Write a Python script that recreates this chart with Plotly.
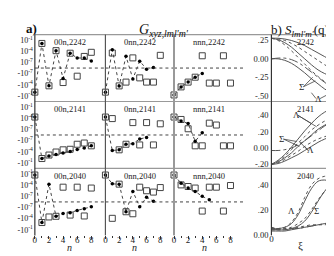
import numpy as np
import plotly.graph_objects as go

W, H = 334, 256
def px(x): return x / W
def py(y): return 1 - y / H

# ---------------- panel a data (G values, signed) ----------------
n_vals = [0, 1, 2, 3, 4, 5, 6, 7, 8]

dots_00n_2242 = [-9.5e-3, 1.3e-2, -1.9e-4, 1.5e-4, -1.9e-6, 3.1e-5, 1.6e-6, 1.6e-6, 2.6e-7]
sq_00n_2242   = [-9.5e-3, 1.3e-2, -1.9e-4, 1.5e-4, -2.5e-5, 3.1e-5, -4.9e-7, 4.2e-6, 5.4e-5]
dots_0nn_2242 = [-9.5e-3, 2.8e-4, -2.0e-4, 4.5e-6, -2.6e-6, 2.3e-7, -6.3e-9, 4.2e-9]
sq_0nn_2242   = [-9.5e-3, 3.5e-5, -2.0e-4, -1.9e-5, 1.7e-6, -1.4e-6, -1.9e-5, -1.9e-5, 8.3e-6]
dots_nnn_2242 = [-5.4e-2, -3.7e-4, -1.9e-5, -9.1e-7, -8.7e-8]
sq_nnn_2242   = [-5.4e-2, -3.7e-4, -1.9e-5, -9.1e-7, 6.3e-6, -3.5e-5, -3.5e-5, 6.3e-6, -3.5e-5]

dots_00n_2141 = [2.1e-4, -6.8e-3, -1.5e-3, -5.6e-4, -2.1e-4, -8.1e-5, -2.5e-5, -1.0e-5, -2.6e-6]
sq_00n_2141   = [2.1e-4, -6.8e-3, -7.9e-4, -1.2e-4, -3.1e-5, -2.2e-5, -9.8e-7, -4.6e-7, -2.6e-6]
dots_0nn_2141 = [2.1e-4, -4.7e-5, -3.1e-5, -9.8e-7, -6.9e-7, -3.8e-8, -1.4e-8]
sq_0nn_2141   = [2.1e-4, 8.1e-5, -3.1e-5, -9.8e-7, 6.8e-6, -1.5e-6, 6.8e-6, -1.5e-6, 3.2e-6]
dots_nnn_2141 = [2.1e-4, 1.8e-5, 3.9e-6, -1.5e-7, 1.2e-8]
sq_nnn_2141   = [2.1e-4, 4.7e-5, 1.5e-7, -2.6e-6, -2.6e-6, 4.8e-6, 1.5e-6, -2.6e-6, -2.6e-6]

dots_00n_2040 = [5.4e-2, -1.1e-3, 1.9e-4, -2.3e-5, -3.9e-6, -2.6e-6, -6.0e-7, -2.3e-7, -6.6e-8]
sq_00n_2040   = [5.4e-2, -1.1e-3, -3.5e-5, -2.3e-5, 2.9e-5, -1.1e-5, 2.9e-5, -1.9e-5, 1.7e-5]
dots_0nn_2040 = [5.4e-2, 2.3e-4, 1.9e-4, -1.4e-6, 2.1e-6, -6.6e-8, 5.4e-8, 4.8e-9]
sq_0nn_2040   = [5.4e-2, -8.1e-5, 1.9e-4, -1.4e-6, -4.8e-6, 2.9e-5, 3.2e-6, 1.4e-6, 2.3e-5]
dots_nnn_2040 = [5.4e-2, 3.5e-4, 1.7e-5, 2.1e-6, 1.0e-7, 1.3e-8]
sq_nnn_2040   = [5.4e-2, 1.2e-4, 4.4e-5, 1.7e-5, -9.1e-7, 2.9e-5, 2.9e-5, -9.1e-7, 8.1e-5]

row_names = ["2242", "2141", "2040"]
col_names = ["00n", "0nn", "nnn"]
a_ticks = [1e-1, 1e-4, 1e-7, -1e-7, -1e-4, -1e-1]
a_ticktext = ["10<sup>-1</sup>", "10<sup>-4</sup>", "10<sup>-7</sup>",
              "-10<sup>-7</sup>", "-10<sup>-4</sup>", "-10<sup>-1</sup>"]
n_ticks = [0, 2, 4, 6, 8]

# ---------------- panel b data ----------------
xi = [0.0, 0.1, 0.2, 0.3, 0.4, 0.5, 0.6, 0.7, 0.8, 0.9, 1.0]
S2242 = [
    [0.28, 0.28, 0.27, 0.25, 0.22, 0.18, 0.13, 0.08, 0.03, -0.02, -0.06],
    [0.28, 0.27, 0.25, 0.21, 0.16, 0.10, 0.04, -0.02, -0.08, -0.13, -0.17],
    [0.28, 0.26, 0.22, 0.16, 0.08, 0.00, -0.08, -0.15, -0.20, -0.24, -0.27],
    [0.28, 0.25, 0.19, 0.11, 0.02, -0.07, -0.16, -0.24, -0.31, -0.36, -0.40],
    [0.00, 0.01, 0.01, -0.01, -0.05, -0.11, -0.18, -0.25, -0.32, -0.38, -0.43],
    [0.00, 0.00, -0.02, -0.06, -0.12, -0.19, -0.27, -0.34, -0.41, -0.46, -0.50],
]
S2141 = [
    [-0.20, -0.15, -0.08, 0.01, 0.11, 0.21, 0.30, 0.38, 0.44, 0.48, 0.50],
    [-0.20, -0.16, -0.10, -0.02, 0.06, 0.14, 0.22, 0.28, 0.33, 0.36, 0.38],
    [-0.20, -0.17, -0.12, -0.06, 0.02, 0.09, 0.16, 0.23, 0.28, 0.32, 0.35],
    [-0.03, -0.03, -0.02, 0.00, 0.04, 0.09, 0.15, 0.21, 0.27, 0.31, 0.34],
    [-0.20, -0.18, -0.14, -0.09, -0.04, 0.02, 0.07, 0.11, 0.14, 0.16, 0.18],
    [-0.20, -0.19, -0.16, -0.12, -0.08, -0.03, 0.02, 0.07, 0.11, 0.14, 0.16],
]
S2040 = [
    [0.05, 0.05, 0.06, 0.10, 0.18, 0.30, 0.40, 0.45, 0.47, 0.47, 0.47],
    [0.05, 0.05, 0.06, 0.09, 0.16, 0.27, 0.37, 0.43, 0.44, 0.43, 0.46],
    [0.04, 0.04, 0.04, 0.05, 0.07, 0.11, 0.18, 0.27, 0.35, 0.41, 0.44],
    [0.04, 0.04, 0.05, 0.06, 0.09, 0.13, 0.20, 0.28, 0.35, 0.40, 0.43],
    [0.03, 0.03, 0.03, 0.04, 0.05, 0.06, 0.07, 0.08, 0.09, 0.095, 0.10],
    [0.06, 0.05, 0.05, 0.05, 0.06, 0.07, 0.08, 0.08, 0.09, 0.10, 0.11],
    [0.05, 0.04, 0.04, 0.05, 0.05, 0.06, 0.07, 0.08, 0.08, 0.09, 0.09],
]
styles_b = {
    "2242": ["solid", "dot", "solid", "dot", "dashdot", "solid"],
    "2141": ["solid", "dot", "solid", "dashdot", "dot", "solid"],
    "2040": ["dot", "solid", "solid", "dot", "solid", "dot", "dashdot"],
}

def symlog(v):
    v = np.asarray(v, dtype=float)
    return np.sign(v) * (np.log10(np.abs(v)) + 8.5) / 3.0

SERIF = "Liberation Serif"
fig = go.Figure()

col_px = [(25, 96), (96, 165), (165, 236)]
row_px = [(27, 95), (95, 163), (163, 231)]
b_px = (263, 334)
INK = "#333"
FRAME = "#999"

data_a = {
    ("00n", "2242"): (dots_00n_2242, sq_00n_2242),
    ("0nn", "2242"): (dots_0nn_2242, sq_0nn_2242),
    ("nnn", "2242"): (dots_nnn_2242, sq_nnn_2242),
    ("00n", "2141"): (dots_00n_2141, sq_00n_2141),
    ("0nn", "2141"): (dots_0nn_2141, sq_0nn_2141),
    ("nnn", "2141"): (dots_nnn_2141, sq_nnn_2141),
    ("00n", "2040"): (dots_00n_2040, sq_00n_2040),
    ("0nn", "2040"): (dots_0nn_2040, sq_0nn_2040),
    ("nnn", "2040"): (dots_nnn_2040, sq_nnn_2040),
}

layout = {}
annotations = []
shapes = []
k = 0
for r, rn in enumerate(row_names):
    for c, cn in enumerate(col_names):
        k += 1
        xa = "x" if k == 1 else f"x{k}"
        ya = "y" if k == 1 else f"y{k}"
        dots, sq = data_a[(cn, rn)]
        fig.add_trace(go.Scatter(x=n_vals[:len(sq)], y=symlog(sq), xaxis=xa, yaxis=ya,
                                 mode="markers", cliponaxis=False,
                                 marker=dict(symbol="square-open", size=6,
                                             color="#444", line=dict(width=1, color="#444")),
                                 showlegend=False))
        fig.add_trace(go.Scatter(x=n_vals[:len(dots)], y=symlog(dots), xaxis=xa, yaxis=ya,
                                 mode="lines+markers", cliponaxis=False,
                                 line=dict(color="#444", width=1, dash="dot"),
                                 marker=dict(symbol="circle", size=3.5, color="black"),
                                 showlegend=False))
        x0, x1 = col_px[c]
        y0, y1 = row_px[r]
        bottom = (r == 2)
        xd = dict(domain=[px(x0), px(x1)], anchor=ya, range=[0, 10],
                  showgrid=False, zeroline=False, showline=False, fixedrange=True)
        if bottom:
            xd.update(tickvals=n_ticks, ticks="outside", ticklen=3, tickcolor=INK,
                      ticklabelstandoff=-7,
                      minor=dict(tickvals=[1, 3, 5, 7], ticks="outside", ticklen=2,
                                 tickcolor=INK),
                      tickfont=dict(family=SERIF, size=9, color="#222"))
            annotations.append(dict(text="<i>n</i>", xref="paper", yref="paper",
                                    x=px((x0 + x1) / 2 - 5), y=py(250.5), showarrow=False,
                                    font=dict(family=SERIF, size=10, color="#222")))
        else:
            xd.update(showticklabels=False, ticks="")
        layout[f"xaxis{k}"] = xd
        yd = dict(domain=[py(y1), py(y0)], anchor=xa, range=[-3, 3],
                  showgrid=False, zeroline=False, showline=False, ticks="", fixedrange=True)
        if c == 0:
            yd.update(tickvals=list(symlog(a_ticks)), ticktext=a_ticktext, ticklabelstandoff=1,
                      tickfont=dict(family=SERIF, size=8, color="#222"))
        else:
            yd.update(showticklabels=False)
        layout[f"yaxis{k}"] = yd
        shapes.append(dict(type="line", xref=f"{xa} domain", yref=ya, x0=0, x1=1,
                           y0=0, y1=0, line=dict(color="#444", width=1, dash="dot")))
        annotations.append(dict(text=f"{cn},{rn}", xref="paper", yref="paper",
                                x=px((x0 + x1) / 2), y=py(y0 + 0.5), xanchor="center",
                                yanchor="top", showarrow=False,
                                font=dict(family=SERIF, size=8.5, color="#222")))

# panel b
b_sets = [S2242, S2141, S2040]
b_ranges = [[-0.58, 0.33], [-0.25, 0.57], [-0.005, 0.533]]
b_tv = [[0.25, 0.0, -0.25, -0.5], [0.4, 0.2, 0.0, -0.2], [0.4, 0.2, 0.0]]
b_tt = [[".25", "0.00", "-.25", "-.50"], [".40", ".20", "0.00", "-.20"], [".40", ".20", "0.00"]]
for r, rn in enumerate(row_names):
    k += 1
    xa, ya = f"x{k}", f"y{k}"
    for curve, st in zip(b_sets[r], styles_b[rn]):
        fig.add_trace(go.Scatter(x=xi, y=curve, xaxis=xa, yaxis=ya, mode="lines",
                                 line=dict(color="#555", width=1, dash=st, shape="spline"),
                                 showlegend=False))
    y0, y1 = row_px[r]
    bottom = (r == 2)
    xd = dict(domain=[px(b_px[0]), px(b_px[1])], anchor=ya, range=[0, 1.06],
              showgrid=False, zeroline=False, showline=False, fixedrange=True)
    if bottom:
        xd.update(tickvals=[0, 1], ticks="", ticklabelstandoff=-3,
                  tickfont=dict(family=SERIF, size=9, color="#222"))
        annotations.append(dict(text="ξ", xref="paper", yref="paper", x=px(297), y=py(250),
                                showarrow=False, font=dict(family=SERIF, size=11, color="#222")))
    else:
        xd.update(showticklabels=False, ticks="")
    layout[f"xaxis{k}"] = xd
    layout[f"yaxis{k}"] = dict(
        domain=[py(y1), py(y0)], anchor=xa, range=b_ranges[r],
        showgrid=False, zeroline=False, showline=False,
        tickvals=b_tv[r], ticktext=b_tt[r], ticks="", ticklabelstandoff=2,
        tickfont=dict(family=SERIF, size=8.5, color="#222"), fixedrange=True)
    annotations.append(dict(text=rn, xref="paper", yref="paper",
                            x=px(297), y=py(y0 + 0.5), xanchor="center", yanchor="top",
                            showarrow=False, font=dict(family=SERIF, size=8.5, color="#222")))

# curve labels in panel b (axis coordinates)
b_labels = [
    (10, "Δ", 0.94, 0.10, [(0.86, -0.09), (0.98, -0.05)]),
    (10, "Σ", 0.45, -0.38, [(0.62, -0.25), (0.66, -0.30)]),
    (10, "Λ", 0.70, -0.54, [(0.60, -0.46), (0.90, -0.46)]),
    (11, "Λ", 0.37, 0.40, [(0.60, 0.30), (0.68, 0.26)]),
    (11, "Σ", 0.15, 0.11, [(0.38, 0.08), (0.42, 0.02)]),
    (11, "Λ", 0.58, -0.03, [(0.42, 0.08), (0.50, 0.02)]),
    (12, "Λ", 0.30, 0.19, []),
    (12, "Σ", 0.67, 0.19, []),
    (12, "Δ", 0.95, 0.15, []),
]
for kk, t, lx, ly, ptrs in b_labels:
    annotations.append(dict(text=t, xref=f"x{kk}", yref=f"y{kk}", x=lx, y=ly,
                            showarrow=False, font=dict(family=SERIF, size=9, color="#222")))
    for (tx, ty) in ptrs:
        shapes.append(dict(type="line", xref=f"x{kk}", yref=f"y{kk}",
                           x0=lx + (0.03 if tx > lx else -0.03), y0=ly, x1=tx, y1=ty,
                           line=dict(color="#444", width=0.8)))

# frame lines
for yb in [27, 95, 163]:
    shapes.append(dict(type="line", xref="paper", yref="paper", x0=px(25), x1=1,
                       y0=py(yb), y1=py(yb), line=dict(color=FRAME, width=1.2)))
shapes.append(dict(type="line", xref="paper", yref="paper", x0=px(25), x1=px(25),
                   y0=py(231), y1=py(27), line=dict(color=INK, width=1.2)))
shapes.append(dict(type="line", xref="paper", yref="paper", x0=px(96), x1=px(96),
                   y0=py(231), y1=py(27), line=dict(color="#555", width=1.2)))
shapes.append(dict(type="line", xref="paper", yref="paper", x0=px(165), x1=px(165),
                   y0=py(231), y1=py(27), line=dict(color=FRAME, width=2)))
shapes.append(dict(type="line", xref="paper", yref="paper", x0=px(263), x1=px(263),
                   y0=py(231), y1=py(27), line=dict(color=INK, width=1.2)))

# titles
annotations.append(dict(text="<b>a)</b>", xref="paper", yref="paper", x=px(14), y=py(11),
                        showarrow=False, font=dict(family=SERIF, size=13, color="#111")))
annotations.append(dict(text="<i>G<sub>xyz,lml'm'</sub></i>", xref="paper", yref="paper",
                        x=px(155), y=py(12), showarrow=False,
                        font=dict(family=SERIF, size=14, color="#111")))
annotations.append(dict(text="b) <i>S<sub>lml'm'</sub></i>(q)", xref="paper", yref="paper",
                        x=px(261), y=py(12), xanchor="left", showarrow=False,
                        font=dict(family=SERIF, size=13, color="#111")))

fig.update_layout(width=W, height=H, margin=dict(l=0, r=0, t=0, b=0),
                  paper_bgcolor="white", plot_bgcolor="white",
                  annotations=annotations, shapes=shapes, showlegend=False, **layout)
fig.write_html("out.html")
